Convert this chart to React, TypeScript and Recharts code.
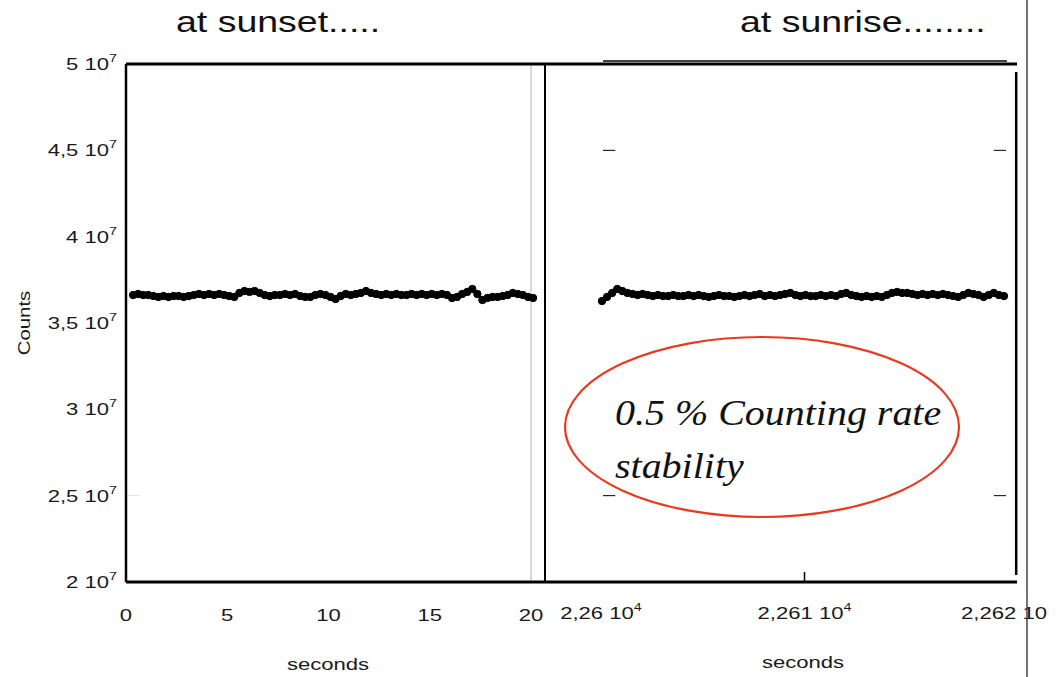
import React from "react";
import { LineChart, Line, XAxis, YAxis, ReferenceLine } from "recharts";

// counts in units of 10^7, time in seconds
const sunsetTime = [
  0.35, 0.6, 0.85, 1.1, 1.35, 1.6, 1.85, 2.1, 2.35, 2.6,
  2.85, 3.1, 3.35, 3.6, 3.85, 4.1, 4.35, 4.6, 4.85, 5.1,
  5.35, 5.6, 5.85, 6.1, 6.35, 6.6, 6.85, 7.1, 7.35, 7.6,
  7.85, 8.1, 8.35, 8.6, 8.85, 9.1, 9.35, 9.6, 9.85, 10.1,
  10.35, 10.6, 10.85, 11.1, 11.35, 11.6, 11.85, 12.1, 12.35, 12.6,
  12.85, 13.1, 13.35, 13.6, 13.85, 14.1, 14.35, 14.6, 14.85, 15.1,
  15.35, 15.6, 15.85, 16.1, 16.35, 16.6, 16.85, 17.1, 17.35, 17.6,
  17.85, 18.1, 18.35, 18.6, 18.85, 19.1, 19.35, 19.6, 19.85, 20.1,
];
const sunsetCounts = [
  3.662, 3.668, 3.662, 3.662, 3.656, 3.651, 3.656, 3.651, 3.656, 3.656,
  3.651, 3.656, 3.662, 3.668, 3.662, 3.668, 3.662, 3.668, 3.662, 3.656,
  3.651, 3.674, 3.685, 3.68, 3.685, 3.674, 3.662, 3.656, 3.662, 3.662,
  3.668, 3.662, 3.668, 3.656, 3.651, 3.651, 3.662, 3.668, 3.662, 3.651,
  3.639, 3.656, 3.668, 3.662, 3.668, 3.674, 3.685, 3.674, 3.668, 3.662,
  3.668, 3.662, 3.668, 3.662, 3.662, 3.668, 3.662, 3.668, 3.662, 3.668,
  3.662, 3.668, 3.662, 3.645, 3.651, 3.668, 3.68, 3.697, 3.668, 3.633,
  3.645, 3.651, 3.651, 3.656, 3.662, 3.674, 3.668, 3.662, 3.651, 3.645,
];

const sunriseTime = [
  22600.05, 22600.3, 22600.55, 22600.8, 22601.05, 22601.3, 22601.55, 22601.8, 22602.05, 22602.3,
  22602.55, 22602.8, 22603.05, 22603.3, 22603.55, 22603.8, 22604.05, 22604.3, 22604.55, 22604.8,
  22605.05, 22605.3, 22605.55, 22605.8, 22606.05, 22606.3, 22606.55, 22606.8, 22607.05, 22607.3,
  22607.55, 22607.8, 22608.05, 22608.3, 22608.55, 22608.8, 22609.05, 22609.3, 22609.55, 22609.8,
  22610.05, 22610.3, 22610.55, 22610.8, 22611.05, 22611.3, 22611.55, 22611.8, 22612.05, 22612.3,
  22612.55, 22612.8, 22613.05, 22613.3, 22613.55, 22613.8, 22614.05, 22614.3, 22614.55, 22614.8,
  22615.05, 22615.3, 22615.55, 22615.8, 22616.05, 22616.3, 22616.55, 22616.8, 22617.05, 22617.3,
  22617.55, 22617.8, 22618.05, 22618.3, 22618.55, 22618.8, 22619.05, 22619.3, 22619.55, 22619.8,
];
const sunriseCounts = [
  3.627, 3.651, 3.674, 3.697, 3.685, 3.674, 3.668, 3.662, 3.668, 3.662,
  3.656, 3.662, 3.656, 3.656, 3.662, 3.656, 3.656, 3.662, 3.656, 3.662,
  3.656, 3.651, 3.656, 3.662, 3.656, 3.656, 3.651, 3.656, 3.662, 3.656,
  3.662, 3.668, 3.656, 3.662, 3.656, 3.662, 3.668, 3.674, 3.662, 3.656,
  3.662, 3.656, 3.656, 3.662, 3.656, 3.662, 3.656, 3.668, 3.674, 3.662,
  3.656, 3.651, 3.656, 3.651, 3.656, 3.651, 3.662, 3.674, 3.68, 3.674,
  3.674, 3.668, 3.662, 3.668, 3.662, 3.668, 3.662, 3.668, 3.662, 3.656,
  3.651, 3.662, 3.674, 3.668, 3.662, 3.651, 3.662, 3.674, 3.662, 3.656,
];

const countTicks = [2, 2.5, 3, 3.5, 4, 4.5, 5];
const sunsetTicks = [0, 5, 10, 15, 20];
const sunriseTicks = [22600, 22610, 22620];
const sunriseTickLabels = ["2,26", "2,261", "2,262"];

const sunsetData = sunsetTime.map((t, i) => ({ t, c: sunsetCounts[i] }));
const sunriseData = sunriseTime.map((t, i) => ({ t, c: sunriseCounts[i] }));

const FONT = "'Liberation Sans', Arial, sans-serif";
const SX = 1.3; // the slide text is stretched sideways
const INK = "#1a1a1a";

function CountTick({ x, y, payload }: any) {
  const label = String(payload.value).replace(".", ",");
  return (
    <g transform={`translate(${x},${y})`}>
      <text transform={`scale(${SX},1)`} y={6} textAnchor="end" fontSize={17} fontFamily={FONT} fill={INK}>
        {label} 10<tspan dy={-8} fontSize={11}>7</tspan>
      </text>
    </g>
  );
}

function SunsetTick({ x, y, payload }: any) {
  return (
    <g transform={`translate(${x},${y})`}>
      <text transform={`scale(${SX},1)`} y={39} textAnchor="middle" fontSize={17} fontFamily={FONT} fill={INK}>
        {payload.value}
      </text>
    </g>
  );
}

function SunriseTick({ x, y, payload, index }: any) {
  const i = sunriseTicks.indexOf(payload.value);
  const idx = i >= 0 ? i : index;
  return (
    <g transform={`translate(${x},${y})`}>
      {idx === 1 && <line x1={0} x2={0} y1={-10} y2={0} stroke="#000" strokeWidth={1.5} />}
      <text transform={`scale(${SX},1)`} y={37} textAnchor="middle" fontSize={17} fontFamily={FONT} fill={INK}>
        {sunriseTickLabels[idx]} 10
        <tspan dy={-8} fontSize={11} opacity={idx === 2 ? 0 : 1}>4</tspan>
      </text>
    </g>
  );
}

const dotStyle = { r: 3.7, fill: "#000", stroke: "#000", strokeWidth: 1 };

export default function App() {
  return (
    <div style={{ position: "absolute", left: 0, top: 0, width: 1063, height: 677, background: "#fff", overflow: "hidden" }}>
      <div style={{ position: "absolute", left: 0, top: 0 }}>
        <LineChart width={560} height={677} data={sunsetData} margin={{ top: 64, right: 15, bottom: 0, left: 0 }}>
          <XAxis
            type="number"
            dataKey="t"
            domain={[0, 20.69]}
            ticks={sunsetTicks}
            interval={0}
            allowDataOverflow
            height={95}
            tickSize={0}
            tickMargin={0}
            tickLine={false}
            axisLine={{ stroke: "#000", strokeWidth: 3 }}
            tick={(p: any) => <SunsetTick {...p} />}
          />
          <YAxis
            type="number"
            domain={[2, 5]}
            ticks={countTicks}
            interval={0}
            width={126}
            tickSize={0}
            tickMargin={9}
            tickLine={false}
            axisLine={{ stroke: "#000", strokeWidth: 2.5 }}
            tick={(p: any) => <CountTick {...p} />}
          />
          <ReferenceLine x={20} stroke="#d9d9d9" strokeWidth={2} />
          <ReferenceLine y={5} stroke="#000" strokeWidth={3} />
          <ReferenceLine segment={[{ x: 0.1, y: 2.5 }, { x: 0.7, y: 2.5 }]} stroke="#e2e2e2" strokeWidth={1} />
          <Line
            dataKey="c"
            stroke="#000"
            strokeWidth={3}
            dot={dotStyle}
            activeDot={false}
            isAnimationActive={false}
          />
        </LineChart>
      </div>

      <div style={{ position: "absolute", left: 0, top: 0 }}>
        <LineChart width={1063} height={677} data={sunriseData} margin={{ top: 64, right: 46, bottom: 0, left: 0 }}>
          <XAxis
            type="number"
            dataKey="t"
            domain={[22597.25, 22620.44]}
            ticks={sunriseTicks}
            interval={0}
            allowDataOverflow
            height={95}
            tickSize={0}
            tickMargin={0}
            tickLine={false}
            axisLine={{ stroke: "#000", strokeWidth: 3 }}
            tick={(p: any) => <SunriseTick {...p} />}
          />
          <YAxis
            type="number"
            domain={[2, 5]}
            ticks={countTicks}
            width={545}
            tick={false}
            tickLine={false}
            axisLine={{ stroke: "#000", strokeWidth: 2 }}
          />
          <ReferenceLine y={5} stroke="#000" strokeWidth={3} />
          <ReferenceLine
            segment={[{ x: 22600.1, y: 5.017 }, { x: 22619.95, y: 5.017 }]}
            ifOverflow="visible"
            stroke="#000"
            strokeWidth={1.5}
          />
          <ReferenceLine
            segment={[{ x: 22620.4, y: 4.954 }, { x: 22620.4, y: 2.04 }]}
            stroke="#000"
            strokeWidth={2.5}
          />
          <ReferenceLine segment={[{ x: 22600.1, y: 4.5 }, { x: 22600.7, y: 4.5 }]} stroke="#000" strokeWidth={1} />
          <ReferenceLine segment={[{ x: 22600.1, y: 2.5 }, { x: 22600.7, y: 2.5 }]} stroke="#000" strokeWidth={1} />
          <ReferenceLine segment={[{ x: 22619.3, y: 4.5 }, { x: 22619.9, y: 4.5 }]} stroke="#000" strokeWidth={1} />
          <ReferenceLine segment={[{ x: 22619.3, y: 2.5 }, { x: 22619.9, y: 2.5 }]} stroke="#000" strokeWidth={1} />
          <Line
            dataKey="c"
            stroke="#000"
            strokeWidth={3}
            dot={dotStyle}
            activeDot={false}
            isAnimationActive={false}
          />
        </LineChart>
      </div>

      <svg width={1063} height={677} style={{ position: "absolute", left: 0, top: 0, pointerEvents: "none" }}>
        <text transform="translate(176,32) scale(1.25,1)" fontSize={30} fontFamily={FONT} fill="#111">
          at sunset.....
        </text>
        <text transform="translate(740,32) scale(1.25,1)" fontSize={30} fontFamily={FONT} fill="#111">
          at sunrise........
        </text>
        <text transform="translate(30,323) rotate(-90) scale(1.2,1)" textAnchor="middle" fontSize={17} fontFamily={FONT} fill={INK}>
          Counts
        </text>
        <text transform="translate(328,670) scale(1.3,1)" textAnchor="middle" fontSize={17} fontFamily={FONT} fill={INK}>
          seconds
        </text>
        <text transform="translate(803,668) scale(1.3,1)" textAnchor="middle" fontSize={17} fontFamily={FONT} fill={INK}>
          seconds
        </text>
        <line x1={1027} x2={1027} y1={0} y2={677} stroke="#444" strokeWidth={1.5} />
        <ellipse cx={762} cy={427} rx={197} ry={90} fill="none" stroke="#e63b1f" strokeWidth={2.2} />
        <g fontFamily="'Liberation Serif', 'Times New Roman', serif" fontStyle="italic" fontSize={36} fill="#111">
          <text transform="translate(615,425) scale(1.11,1)">0.5 % Counting rate</text>
          <text transform="translate(615,478) scale(1.11,1)">stability</text>
        </g>
      </svg>
    </div>
  );
}
